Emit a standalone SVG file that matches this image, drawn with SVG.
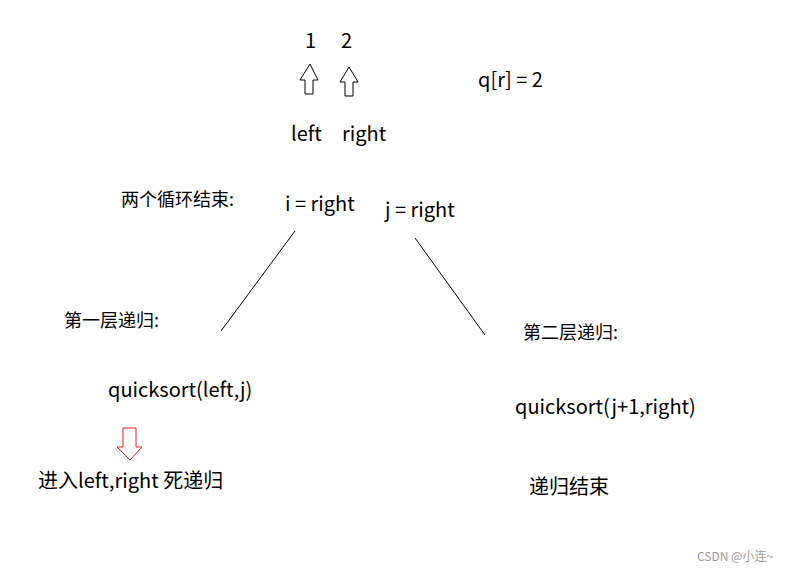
<svg xmlns="http://www.w3.org/2000/svg" width="794" height="572" viewBox="0 0 794 572">
<style>
text{font-family:"Noto Sans CJK SC","Noto Sans",sans-serif;font-size:20px;fill:#000}
.s{font-size:18px}
.arr{fill:#fff;stroke:#000;stroke-width:1}
</style>
<rect width="794" height="572" fill="#fff"/>
<g id="n1"><text x="305" y="48">1</text></g>
<g id="n2"><text x="341" y="48">2</text></g>
<g id="up1"><path class="arr" d="M310,64 L318,80 L313,80 L313,94 L305,94 L305,80 L300,80 Z"/></g>
<g id="up2"><path class="arr" d="M349,67 L358,82 L353,82 L353,96 L345,96 L345,82 L340,82 Z"/></g>
<g id="qr"><text x="478" y="87">q[r] = 2</text></g>
<g id="lr"><text x="291" y="141">left</text><text x="342" y="141">right</text></g>
<g id="loops"><text class="s" x="121" y="206">两个循环结束:</text></g>
<g id="ir"><text x="285" y="211">i = right</text></g>
<g id="jr"><text x="385" y="217">j = right</text></g>
<g id="connectors" stroke="#000" stroke-width="1">
<line x1="295" y1="231" x2="221" y2="331"/>
<line x1="415" y1="238" x2="485" y2="335"/>
</g>
<g id="l1"><text class="s" x="64" y="327">第一层递归:</text></g>
<g id="qs1"><text x="108" y="397">quicksort(left,j)</text></g>
<g id="down"><path fill="#fff" stroke="#e0202a" stroke-width="1" d="M123,428 L136,428 L136,447 L142,447 L130,460 L117,447 L123,447 Z"/></g>
<g id="dead"><text x="38" y="488">进入left,right 死递归</text></g>
<g id="l2"><text class="s" x="523" y="339">第二层递归:</text></g>
<g id="qs2"><text x="515" y="414">quicksort(j+1,right)</text></g>
<g id="end"><text x="529" y="494">递归结束</text></g>
<g id="wm"><text x="697" y="561" style="font-size:12px;fill:#999">CSDN @小连~</text></g>
</svg>
